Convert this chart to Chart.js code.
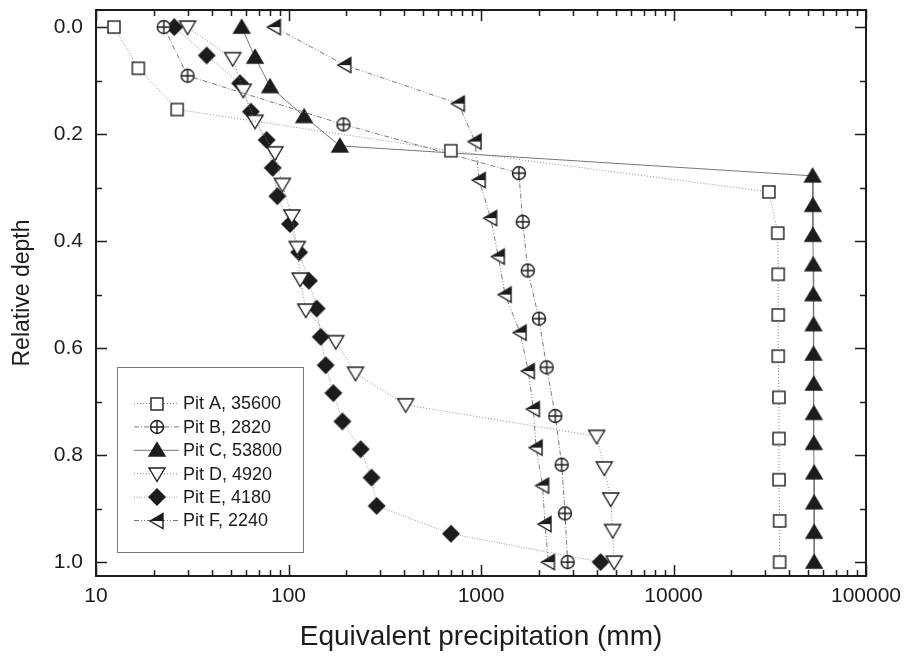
<!DOCTYPE html>
<html>
<head>
<meta charset="utf-8">
<script src="https://cdn.jsdelivr.net/npm/chart.js@4.4.1/dist/chart.umd.min.js"></script>
<style>
  html, body { margin: 0; padding: 0; background: #fff; }
  #grafico { display: block; }
</style>
</head>
<body>
<canvas id="grafico" width="905" height="666"></canvas>
<script>
// Datos: profundidad relativa (y) y precipitación equivalente en mm (x)
const nombresPozos = ['Pit A, 35600', 'Pit B, 2820', 'Pit C, 53800', 'Pit D, 4920', 'Pit E, 4180', 'Pit F, 2240'];

const profA = [0, 0.077, 0.154, 0.231, 0.308, 0.385, 0.462, 0.538, 0.615, 0.692, 0.769, 0.846, 0.923, 1.0];
const precA = [12.4, 16.6, 26.4, 697, 31300, 34800, 35000, 35000, 35000, 35300, 35300, 35300, 35600, 35600];

const profB = [0, 0.091, 0.182, 0.273, 0.364, 0.455, 0.545, 0.636, 0.727, 0.818, 0.909, 1.0];
const precB = [22.5, 29.9, 193, 1574, 1648, 1750, 2000, 2193, 2432, 2625, 2730, 2820];

const profC = [0, 0.056, 0.111, 0.167, 0.222, 0.278, 0.333, 0.389, 0.444, 0.5, 0.556, 0.611, 0.667, 0.722, 0.778, 0.833, 0.889, 0.944, 1.0];
const precC = [57.1, 67, 80.2, 120.5, 185, 52800, 53000, 53000, 53200, 53200, 53400, 53400, 53500, 53600, 53600, 53800, 53800, 53800, 53800];

const profD = [0, 0.059, 0.118, 0.176, 0.235, 0.294, 0.353, 0.412, 0.471, 0.529, 0.588, 0.647, 0.706, 0.765, 0.824, 0.882, 0.941, 1.0];
const precD = [29.9, 51.3, 58.2, 67, 85, 92.9, 104, 111, 115, 123, 176, 223, 406, 3990, 4370, 4720, 4830, 4920];

const profE = [0, 0.053, 0.105, 0.158, 0.211, 0.263, 0.316, 0.368, 0.421, 0.474, 0.526, 0.579, 0.632, 0.684, 0.737, 0.789, 0.842, 0.895, 0.947, 1.0];
const precE = [25.5, 37.6, 56, 63.8, 77, 82.8, 87.5, 101.8, 113.5, 127.6, 140, 147, 156, 171, 190.5, 237, 270, 287, 698, 4180];

const profF = [0, 0.071, 0.143, 0.214, 0.286, 0.357, 0.429, 0.5, 0.571, 0.643, 0.714, 0.786, 0.857, 0.929, 1.0];
const precF = [84.4, 196, 762, 931, 979, 1122, 1230, 1334, 1596, 1761, 1871, 1933, 2089, 2150, 2240];

// Marcas de los ejes
const xTicksMayores = [10, 100, 1000, 10000, 100000];
const xFactoresMenores = [2, 3, 4, 5, 6, 7, 8, 9];
const yTicksMayores = [0, 0.2, 0.4, 0.6, 0.8, 1.0];
const yTicksMenores = [0.1, 0.3, 0.5, 0.7, 0.9];

const FUENTE = "'Liberation Sans', Arial, sans-serif";
const NEGRO = '#1c1c1c';

/**
 * Dibuja un marcador en un canvas pequeño para usarlo como pointStyle
 * @param {string} tipo 'cuadro', 'circuloCruz', 'trianguloArriba', 'trianguloAbajo', 'rombo', 'trianguloIzq'
 */
function crearMarcador(tipo) {
    const c = document.createElement('canvas');
    c.width = 20;
    c.height = 20;
    const g = c.getContext('2d');
    g.lineWidth = 1.4;
    g.strokeStyle = NEGRO;
    g.fillStyle = '#fff';
    g.lineJoin = 'miter';

    switch (tipo) {
        case 'cuadro':
            g.fillRect(4, 4, 12, 12);
            g.strokeRect(4, 4, 12, 12);
            break;
        case 'circuloCruz':
            g.beginPath();
            g.arc(10, 10, 6.5, 0, Math.PI * 2);
            g.fill();
            g.stroke();
            g.beginPath();
            g.moveTo(3.5, 10); g.lineTo(16.5, 10);
            g.moveTo(10, 3.5); g.lineTo(10, 16.5);
            g.stroke();
            break;
        case 'trianguloArriba':
            g.fillStyle = NEGRO;
            g.beginPath();
            g.moveTo(10, 2.5); g.lineTo(18, 16); g.lineTo(2, 16);
            g.closePath();
            g.fill();
            g.stroke();
            break;
        case 'trianguloAbajo':
            g.beginPath();
            g.moveTo(2, 4); g.lineTo(18, 4); g.lineTo(10, 17.5);
            g.closePath();
            g.fill();
            g.stroke();
            break;
        case 'rombo':
            g.fillStyle = NEGRO;
            g.beginPath();
            g.moveTo(10, 2); g.lineTo(18, 10); g.lineTo(10, 18); g.lineTo(2, 10);
            g.closePath();
            g.fill();
            g.stroke();
            break;
        case 'trianguloIzq':
            g.beginPath();
            g.moveTo(3, 10); g.lineTo(16, 2.5); g.lineTo(16, 17.5);
            g.closePath();
            g.fill();
            // mitad superior rellena
            g.fillStyle = NEGRO;
            g.beginPath();
            g.moveTo(3, 10); g.lineTo(16, 2.5); g.lineTo(16, 10);
            g.closePath();
            g.fill();
            g.beginPath();
            g.moveTo(3, 10); g.lineTo(16, 2.5); g.lineTo(16, 17.5);
            g.closePath();
            g.stroke();
            break;
    }
    return c;
}

const marcadores = [
    crearMarcador('cuadro'),
    crearMarcador('circuloCruz'),
    crearMarcador('trianguloArriba'),
    crearMarcador('trianguloAbajo'),
    crearMarcador('rombo'),
    crearMarcador('trianguloIzq')
];

const series = [
    { x: precA, y: profA, dash: [1, 2], color: '#8a8a8a' },
    { x: precB, y: profB, dash: [5, 2, 1, 2], color: '#7a7a7a' },
    { x: precC, y: profC, dash: [], color: '#777' },
    { x: precD, y: profD, dash: [1, 2], color: '#8a8a8a' },
    { x: precE, y: profE, dash: [1, 1.5], color: '#999' },
    { x: precF, y: profF, dash: [5, 2, 1, 2, 1, 2], color: '#7a7a7a' }
];

const datasets = series.map((s, i) => ({
    label: nombresPozos[i],
    data: s.x.map((v, k) => ({ x: v, y: s.y[k] })),
    borderColor: s.color,
    borderWidth: 1,
    borderDash: s.dash,
    pointStyle: marcadores[i],
    pointRadius: 8,
    fill: false,
    tension: 0
}));

// Marco, marcas hacia dentro en los cuatro lados
const pluginMarco = {
    id: 'marco',
    afterDatasetsDraw(chart) {
        const { ctx, chartArea: a, scales: { x, y } } = chart;
        ctx.save();
        ctx.strokeStyle = NEGRO;
        ctx.lineWidth = 1.5;

        const marcaX = (px, largo) => {
            ctx.moveTo(px, a.bottom); ctx.lineTo(px, a.bottom - largo);
            ctx.moveTo(px, a.top); ctx.lineTo(px, a.top + largo);
        };
        const marcaY = (py, largo) => {
            ctx.moveTo(a.left, py); ctx.lineTo(a.left + largo, py);
            ctx.moveTo(a.right, py); ctx.lineTo(a.right - largo, py);
        };

        ctx.beginPath();
        xTicksMayores.forEach(v => marcaX(Math.round(x.getPixelForValue(v)) + 0.5, 11));
        xTicksMayores.slice(0, -1).forEach(d => {
            xFactoresMenores.forEach(f => marcaX(Math.round(x.getPixelForValue(d * f)) + 0.5, 6));
        });
        yTicksMayores.forEach(v => marcaY(Math.round(y.getPixelForValue(v)) + 0.5, 11));
        yTicksMenores.forEach(v => marcaY(Math.round(y.getPixelForValue(v)) + 0.5, 6));
        ctx.stroke();

        ctx.lineWidth = 2;
        ctx.strokeRect(a.left, a.top, a.right - a.left, a.bottom - a.top);
        ctx.restore();
    }
};

// Leyenda en recuadro dentro del área de trazado
const pluginLeyenda = {
    id: 'leyendaCaja',
    afterDraw(chart) {
        const { ctx } = chart;
        ctx.save();
        ctx.strokeStyle = '#777';
        ctx.lineWidth = 1;
        ctx.strokeRect(117.5, 367.5, 186, 185);

        ctx.font = '18px ' + FUENTE;
        ctx.textBaseline = 'middle';
        ctx.fillStyle = NEGRO;
        chart.data.datasets.forEach((ds, i) => {
            const yy = 403.5 + i * 23.4;
            ctx.beginPath();
            ctx.strokeStyle = ds.borderColor;
            ctx.setLineDash(ds.borderDash);
            ctx.moveTo(134, yy);
            ctx.lineTo(179, yy);
            ctx.stroke();
            ctx.setLineDash([]);
            ctx.drawImage(marcadores[i], 157 - 10, Math.round(yy) - 10);
            ctx.fillText(ds.label, 183, yy + 1);
        });
        ctx.restore();
    }
};

// Quita el relleno automático que Chart.js reserva para las etiquetas extremas
const sinRelleno = s => {
    s.paddingTop = 0;
    s.paddingBottom = 0;
    s.paddingLeft = 0;
    s.paddingRight = 0;
};

const ctx = document.getElementById('grafico').getContext('2d');
new Chart(ctx, {
    type: 'line',
    data: { datasets },
    options: {
        responsive: false,
        animation: false,
        layout: { padding: { top: 10, right: 39, left: 0, bottom: 0 } },
        plugins: {
            legend: { display: false },
            tooltip: { enabled: false }
        },
        scales: {
            x: {
                type: 'logarithmic',
                min: 10,
                max: 100000,
                grid: { display: false, drawTicks: false },
                border: { display: false },
                afterBuildTicks: s => { s.ticks = xTicksMayores.map(v => ({ value: v })); },
                afterFit: s => { s.height = 90; sinRelleno(s); },
                ticks: {
                    callback: v => String(v),
                    font: { family: FUENTE, size: 21 },
                    color: NEGRO,
                    padding: 8,
                    maxRotation: 0,
                    autoSkip: false
                },
                title: {
                    display: true,
                    text: 'Equivalent precipitation (mm)',
                    font: { family: FUENTE, size: 28 },
                    color: NEGRO,
                    padding: { top: 0, bottom: 12 }
                }
            },
            y: {
                type: 'linear',
                reverse: true,
                min: -0.032,
                max: 1.026,
                grid: { display: false, drawTicks: false },
                border: { display: false },
                afterBuildTicks: s => { s.ticks = yTicksMayores.map(v => ({ value: v })); },
                afterFit: s => { s.width = 96; sinRelleno(s); },
                ticks: {
                    callback: v => v.toFixed(1),
                    font: { family: FUENTE, size: 21 },
                    color: NEGRO,
                    padding: 13,
                    autoSkip: false
                },
                title: {
                    display: true,
                    text: 'Relative depth',
                    font: { family: FUENTE, size: 23 },
                    color: NEGRO,
                    padding: { top: 9, bottom: 0 }
                }
            }
        }
    },
    plugins: [pluginMarco, pluginLeyenda]
});
</script>
</body>
</html>
